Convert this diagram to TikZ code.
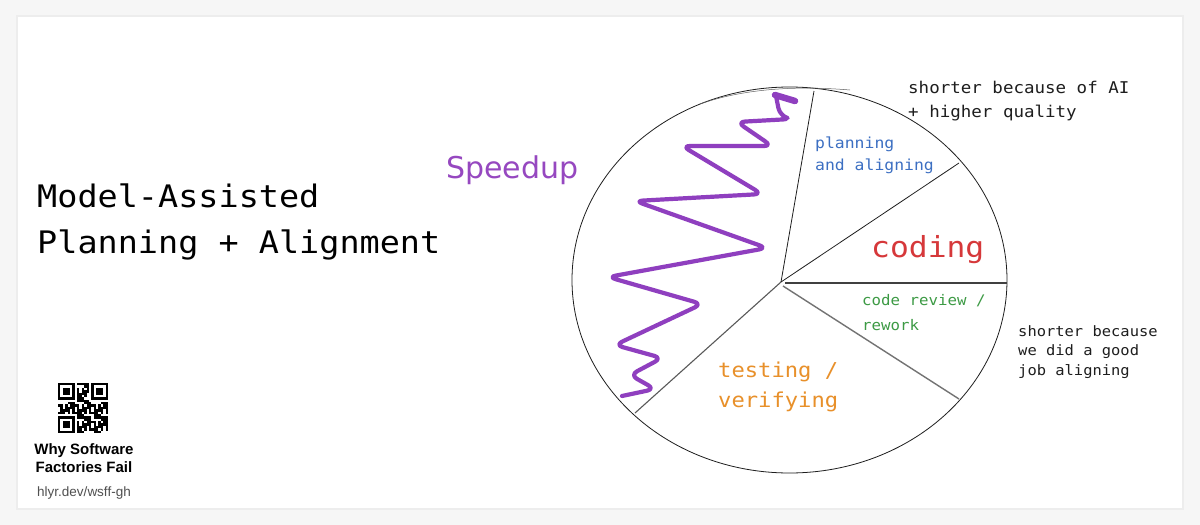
\documentclass[tikz,border=0pt]{standalone}
\usepackage{fontspec}
\newfontfamily\hand[FakeStretch=1.08]{DejaVu Sans Mono}
\newfontfamily\speedfont{DejaVu Sans}
\newfontfamily\labelfont{Liberation Sans}
\definecolor{bgc}{RGB}{246,246,246}
\definecolor{purp}{RGB}{143,63,191}
\definecolor{purptext}{RGB}{150,72,192}
\definecolor{bluec}{RGB}{60,111,194}
\definecolor{redc}{RGB}{214,56,58}
\definecolor{greenc}{RGB}{60,154,68}
\definecolor{orangec}{RGB}{232,144,42}
\definecolor{inkc}{RGB}{30,30,30}
\definecolor{greyt}{RGB}{80,80,80}
\tikzset{
  txt/.style={inner sep=0pt, anchor=base west, align=left},
  divider/.style={draw=inkc, line width=0.8pt},
  dividerg/.style={draw=black!55, line width=1.4pt},
  zig/.style={draw=purp, line width=4.2pt, line cap=round, line join=round, rounded corners=8pt},
}
\begin{document}
\begin{tikzpicture}[x=1pt,y=-1pt]
\useasboundingbox (0,0) rectangle (1200,525);
\fill[bgc] (0,0) rectangle (1200,525);
\fill[black!7] (16,15) rectangle (1184,510);
\fill[white] (18,17) rectangle (1182,508);

% title (anchor = baseline of last line)
\node[txt, font=\hand\fontsize{31}{46}\selectfont] (title) at (37,253) {Model-Assisted\\Planning + Alignment};

% pie
\coordinate (c) at (781,282);
\coordinate (pt) at (814,91);
\coordinate (pur) at (959,163);
\coordinate (pr) at (1007,283);
\coordinate (cr) at (785,283);
\coordinate (clr) at (783,286);
\coordinate (plr) at (959,399);
\coordinate (pll) at (635,413);
\draw[inkc, line width=0.8pt] (789.5,280) ellipse [x radius=217.5pt, y radius=193pt];
\draw[inkc!70, line width=0.5pt] (700,104) .. controls (740,90) and (790,85) .. (850,90);
\draw[divider] (c) -- (pt);
\draw[divider] (c) -- (pur);
\draw[draw=black!75, line width=1.1pt] (cr) -- (pr);
\draw[dividerg] (clr) -- (plr);
\draw[draw=black!65, line width=1.1pt] (c) -- (pll);

% purple zigzag
\draw[purp, line width=6.5pt, line cap=round] (795,101) -- (775,95);
\draw[zig] (776,96) -- (780,116) -- (791,119) -- (737,122) -- (772,146) -- (682,146) -- (762,194) -- (635,201) -- (767,248) -- (608,277) -- (702,304) -- (615,345) -- (662,358) -- (630,375) -- (655,389) -- (622,396);

% labels
\node[txt, text=purptext, font=\speedfont\fontsize{30}{36}\selectfont] (speed) at (446,178) {Speedup};
\node[txt, text=bluec, font=\hand\fontsize{15.2}{22}\selectfont] (plan) at (815,170) {planning\\and aligning};
\node[txt, text=redc, font=\hand\fontsize{29}{34}\selectfont] (coding) at (871,257) {coding};
\node[txt, text=greenc, font=\hand\fontsize{14.6}{25}\selectfont] (review) at (862,330) {code review /\\rework};
\node[txt, text=orangec, font=\hand\fontsize{20.5}{30}\selectfont] (testing) at (718,407) {testing /\\verifying};
\node[txt, text=inkc, font=\hand\fontsize{16.2}{24}\selectfont] (note1) at (908,117) {shorter because of AI\\+ higher quality};
\node[txt, text=inkc, font=\hand\fontsize{14.3}{19.5}\selectfont] (note2) at (1018,375) {shorter because\\we did a good\\job aligning};

% QR code
\begin{scope}[shift={(58,383)}, x=2.38pt, y=-2.38pt]
  \foreach \ox/\oy in {0/0,14/0,0/14}{
    \fill[black] (\ox,\oy) rectangle ++(7,7);
    \fill[white] (\ox+1,\oy+1) rectangle ++(5,5);
    \fill[black] (\ox+2,\oy+2) rectangle ++(3,3);
  }
  \foreach \i in {0,...,20}{
    \foreach \j in {0,...,20}{
      \pgfmathtruncatemacro\inf{((\i<8)&&(\j<8))||((\i>12)&&(\j<8))||((\i<8)&&(\j>12))}
      \pgfmathtruncatemacro\v{mod(\i*\i*3+\j*7+\i*\j*5+\j*\j+11,7)<4}
      \ifnum\inf=0 \ifnum\v=1 \fill[black] (\i,\j) rectangle ++(1,1); \fi\fi
    }
  }
\end{scope}
\node[inner sep=0pt, anchor=base, align=center, font=\labelfont\bfseries\fontsize{15}{17.5}\selectfont] (book) at (84,472) {Why Software\\Factories Fail};
\node[inner sep=0pt, anchor=base, text=greyt, font=\labelfont\fontsize{13.5}{15}\selectfont] (url) at (84,496) {hlyr.dev/wsff-gh};
\end{tikzpicture}
\end{document}
